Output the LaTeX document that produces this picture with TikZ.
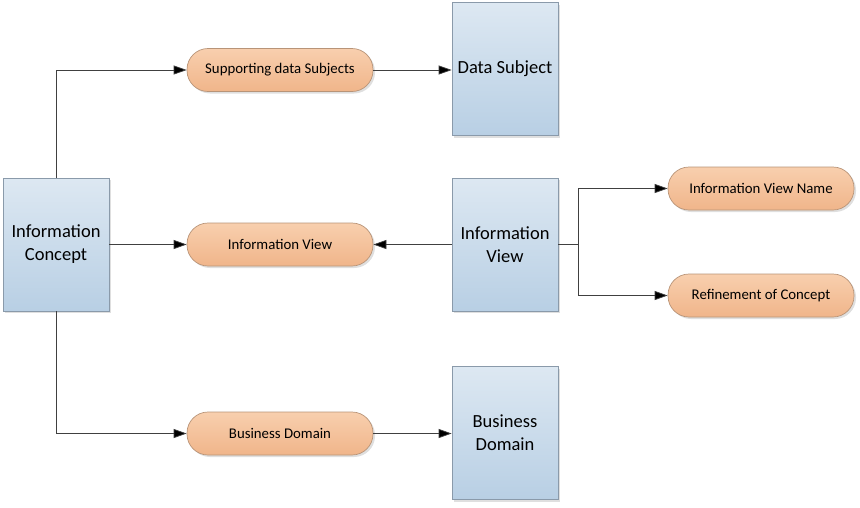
\documentclass[tikz,border=0pt]{standalone}
\usepackage{fontspec}
\setmainfont{Carlito}
\usetikzlibrary{arrows.meta,shadows}

\definecolor{boxtop}{HTML}{DDE8F2}
\definecolor{boxbot}{HTML}{B8CFE4}
\definecolor{boxline}{HTML}{8A9AAA}
\definecolor{pilltop}{HTML}{F8CFAE}
\definecolor{pillbot}{HTML}{F0B58A}
\definecolor{pillline}{HTML}{B89478}
\definecolor{wire}{HTML}{404040}

\tikzset{
  entity/.style={draw=boxline, line width=0.7pt, top color=boxtop, bottom color=boxbot,
    minimum width=106pt, minimum height=133pt, align=center, font=\fontsize{18.5}{23}\selectfont,
    drop shadow={opacity=0.25, shadow xshift=2pt, shadow yshift=-2pt}},
  attrib/.style={draw=pillline, line width=0.7pt, top color=pilltop, bottom color=pillbot,
    minimum width=186pt, minimum height=43pt, rounded corners=21pt, font=\fontsize{14.8}{17}\selectfont,
    drop shadow={opacity=0.25, shadow xshift=2pt, shadow yshift=-2pt}},
  conn/.style={draw=wire, line width=0.7pt, -{Triangle[length=13pt,width=9pt,fill=black]}},
  wire/.style={draw=wire, line width=0.7pt}
}

\begin{document}
\begin{tikzpicture}[x=1pt,y=-1pt]
\useasboundingbox (0,0) rectangle (860,507);

% boxes
\node[entity] (ic) at (56,244.5) {Information\\Concept};
\node[entity] (ds) at (505,69) {Data Subject};
\node[entity] (iv) at (505,244.5) {Information\\View};
\node[entity] (bd) at (505,433) {Business\\Domain};

% pills
\node[attrib] (sds) at (280,70) {Supporting data Subjects};
\node[attrib] (ivp) at (280,244.5) {Information View};
\node[attrib] (bdp) at (280,433.5) {Business Domain};
\node[attrib] (ivn) at (761,188.5) {Information View Name};
\node[attrib] (roc) at (761,295.5) {Refinement of Concept};

% links
\draw[conn] (ic.north) |- (sds.west);
\draw[conn] (ic.east) -- (ivp.west);
\draw[conn] (ic.south) |- (bdp.west);
\draw[conn] (sds.east) -- (sds.east -| ds.west);
\draw[conn] (bdp.east) -- (bdp.east -| bd.west);
\draw[conn] (iv.west) -- (ivp.east);

\coordinate (split) at (578,244.5);
\draw[wire] (iv.east) -- (split);
\draw[conn] (split) |- (ivn.west);
\draw[conn] (split) |- (roc.west);

\end{tikzpicture}
\end{document}
